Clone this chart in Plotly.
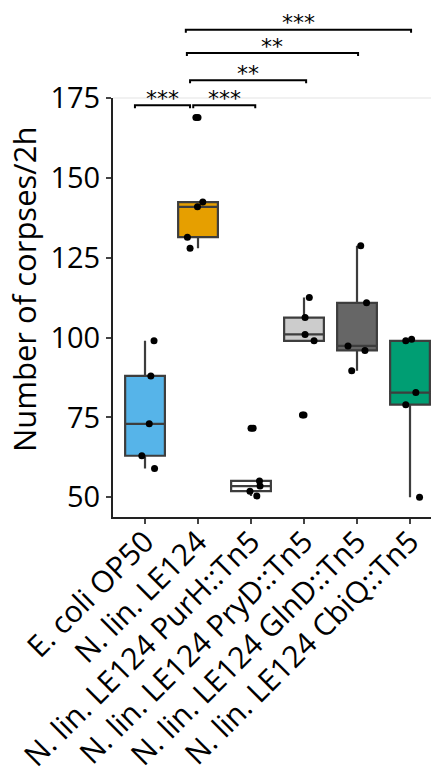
import plotly.graph_objects as go

# ---- data ----
categories = ["E. coli OP50", "N. lin. LE124", "N. lin. LE124 PurH::Tn5",
              "N. lin. LE124 PryD::Tn5", "N. lin. LE124 GlnD::Tn5", "N. lin. LE124 CbiQ::Tn5"]
ecoli = [99, 88, 73, 63, 59]
le124 = [169, 142.5, 141, 131.5, 128]
purh = [71.6, 55.1, 53.5, 51.9, 50.4]
pryd = [112.6, 106.3, 101, 99, 75.8]
glnd = [128.8, 110.9, 97.4, 96, 89.6]
cbiq = [99, 99.5, 82.8, 79, 50]
series = [ecoli, le124, purh, pryd, glnd, cbiq]
# horizontal jitter of the overlaid points (category units)
jitter = [
    [0.17, 0.11, 0.08, -0.06, 0.18],
    [-0.04, 0.09, -0.01, -0.20, -0.15],
    [0.04, 0.16, 0.17, -0.02, 0.11],
    [0.10, 0.02, 0.02, 0.19, -0.03],
    [0.07, 0.18, -0.17, 0.15, -0.10],
    [-0.08, 0.03, 0.11, -0.08, 0.18],
]
fills = ["#56B4E9", "#E69F00", "#FFFFFF", "#CCCCCC", "#666666", "#009E73"]
yticks = [50, 75, 100, 125, 150, 175]

# significance brackets
br_x0 = [-0.19, 0.91, 0.85, 0.79, 0.77]
br_x1 = [0.85, 2.08, 3.04, 4.02, 5.02]
br_y = [172.8, 172.8, 180.7, 189.2, 196.5]
br_lab = ["***", "***", "**", "**", "***"]

YMIN, YMAX = 43.8, 175.1
FONT = "Open Sans"

fig = go.Figure()
for i, (vals, col) in enumerate(zip(series, fills)):
    fig.add_trace(go.Box(
        x=[i] * len(vals), y=vals, width=0.75,
        fillcolor=col, line=dict(color="#3d3d3d", width=2.2),
        boxpoints="outliers", quartilemethod="inclusive", whiskerwidth=0,
        marker=dict(color="black", size=7, line=dict(width=0)),
        showlegend=False, hoverinfo="skip"))
for i, vals in enumerate(series):
    fig.add_trace(go.Scatter(
        x=[i + j for j in jitter[i]], y=vals, mode="markers",
        marker=dict(color="black", size=7), showlegend=False, hoverinfo="skip"))

def to_paper(v):
    return (v - YMIN) / (YMAX - YMIN)

tick = 3 / 419
shapes = []
annotations = []
for x0, x1, yv, lab in zip(br_x0, br_x1, br_y, br_lab):
    yp = to_paper(yv)
    shapes.append(dict(type="path", xref="x", yref="paper",
                       path=f"M {x0},{yp - tick} L {x0},{yp} L {x1},{yp} L {x1},{yp - tick}",
                       line=dict(color="black", width=2)))
    annotations.append(dict(x=(x0 + x1) / 2, y=yp, xref="x", yref="paper",
                            text=lab, showarrow=False, yanchor="middle", yshift=7,
                            font=dict(family="DejaVu Sans", size=22, color="black")))
# faint top border line
shapes.append(dict(type="line", xref="paper", yref="paper", x0=0, x1=1, y0=1, y1=1,
                   line=dict(color="#e3e3e3", width=1)))
annotations.append(dict(x=-0.266, y=0.542, xref="paper", yref="paper",
                        text="Number of corpses/2h", textangle=-90, showarrow=False,
                        xanchor="center", yanchor="middle",
                        font=dict(family=FONT, size=31, color="black")))

fig.update_layout(
    template="none",
    width=439, height=777,
    margin=dict(l=105, r=0, t=90, b=268, autoexpand=False),
    paper_bgcolor="white", plot_bgcolor="white",
    font=dict(family=FONT, color="black"),
    shapes=shapes, annotations=annotations,
    xaxis=dict(range=[-0.604, 5.698], tickvals=list(range(len(categories))),
               ticktext=categories, tickangle=-45, showgrid=False, zeroline=False,
               automargin=False, ticklabeloverflow="allow", ticklabelstandoff=-12,
               showline=True, linecolor="#222222", linewidth=2,
               ticks="outside", ticklen=5, tickwidth=1.5, tickcolor="#444444",
               tickfont=dict(family=FONT, size=30, color="black")),
    yaxis=dict(range=[YMIN, YMAX], tickvals=yticks, showgrid=False, zeroline=False,
               automargin=False, ticklabeloverflow="allow",
               showline=True, linecolor="#222222", linewidth=2,
               ticks="outside", ticklen=5, tickwidth=1.5, tickcolor="#444444",
               tickfont=dict(family=FONT, size=29, color="black")),
)
fig.write_html("out.html")
